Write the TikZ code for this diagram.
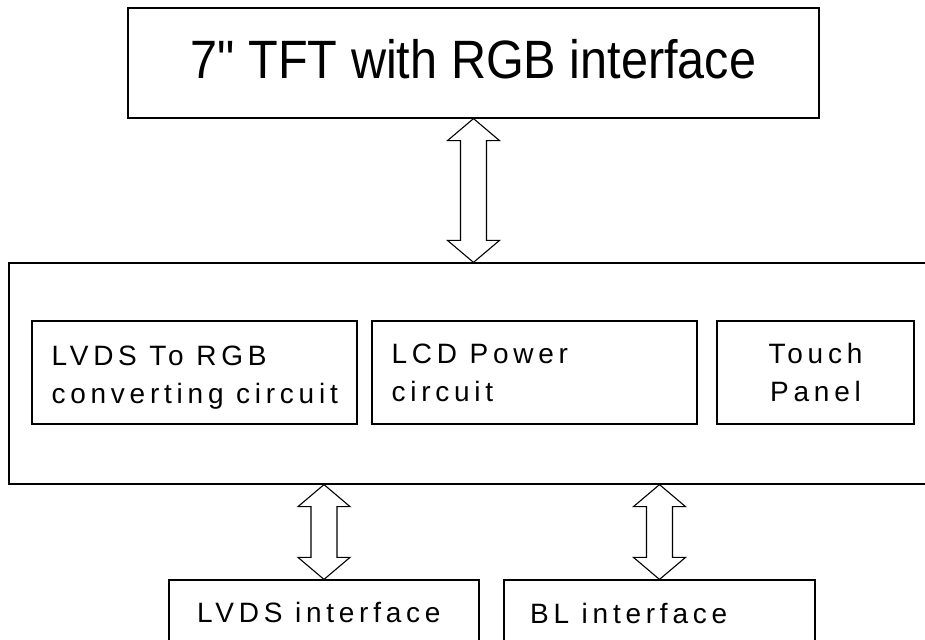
\documentclass[tikz,border=0pt]{standalone}
\usepackage{graphicx}
\usepackage{fontspec}
\setmainfont{Liberation Sans}
\newfontfamily\topf[Ligatures=TeXOff]{Liberation Sans}
\newfontfamily\trk[LetterSpace=17]{Liberation Sans}
\usetikzlibrary{calc}
\newcommand\dblarr[2]{%
  \draw[dbl] (#1) -- ++(26,22) -- ++(-13,0) -- ($(#2)+(13,-22)$) -- ++(13,0) -- (#2)
    -- ++(-26,-22) -- ++(13,0) -- ($(#1)+(-13,22)$) -- ++(-13,0) -- cycle;}
\begin{document}
\begin{tikzpicture}[x=1pt,y=-1pt,
  box/.style={draw, line width=1.2pt, inner sep=0pt},
  lbl/.style={inner sep=0pt, font=\trk\fontsize{28}{38}\selectfont, align=left},
  ctr/.style={inner sep=0pt, font=\trk\fontsize{28}{38}\selectfont, align=center},
  dbl/.style={draw, line width=1.1pt, fill=white, line join=miter}]
\path[use as bounding box, clip] (0,0) rectangle (925,639);
\fill[white] (0,0) rectangle (925,639);
% boxes
\node[box, minimum width=691, minimum height=110] (top) at (473.5,63) {};
\node[box, minimum width=931, minimum height=221] (big) at (474.5,373.5) {};
\node[box, minimum width=325, minimum height=103] (b1) at (194.5,372.5) {};
\node[box, minimum width=325, minimum height=103] (b2) at (534.5,372.5) {};
\node[box, minimum width=197, minimum height=103] (b3) at (815.5,372.5) {};
\node[box, minimum width=310, minimum height=70] (lvds) at (324,615) {};
\node[box, minimum width=311, minimum height=70] (bl) at (659.5,615) {};
% texts
\node[inner sep=0pt, anchor=base, font=\topf\fontsize{54}{64}\selectfont] (t0) at ([shift={(0,16)}]top.center) {\scalebox{0.9}[1]{7" TFT with RGB interface}};
\node[lbl, anchor=base west] (t1) at ([shift={(20,30.5)}]b1.west) {LVDS To RGB\\converting circuit};
\node[lbl, anchor=base west] (t2) at ([shift={(20,28.5)}]b2.west) {LCD Power\\circuit};
\node[ctr, anchor=base] (t3) at ([shift={(0,28.5)}]b3.center) {Touch\\Panel};
\node[lbl, anchor=base west] (t4) at (197,622) {LVDS interface};
\node[lbl, anchor=base west] (t5) at (530,623) {BL interface};
% arrows
\dblarr{top.south}{top.south |- big.north}
\dblarr{lvds.north |- big.south}{lvds.north}
\dblarr{bl.north |- big.south}{bl.north}
\end{tikzpicture}
\end{document}
